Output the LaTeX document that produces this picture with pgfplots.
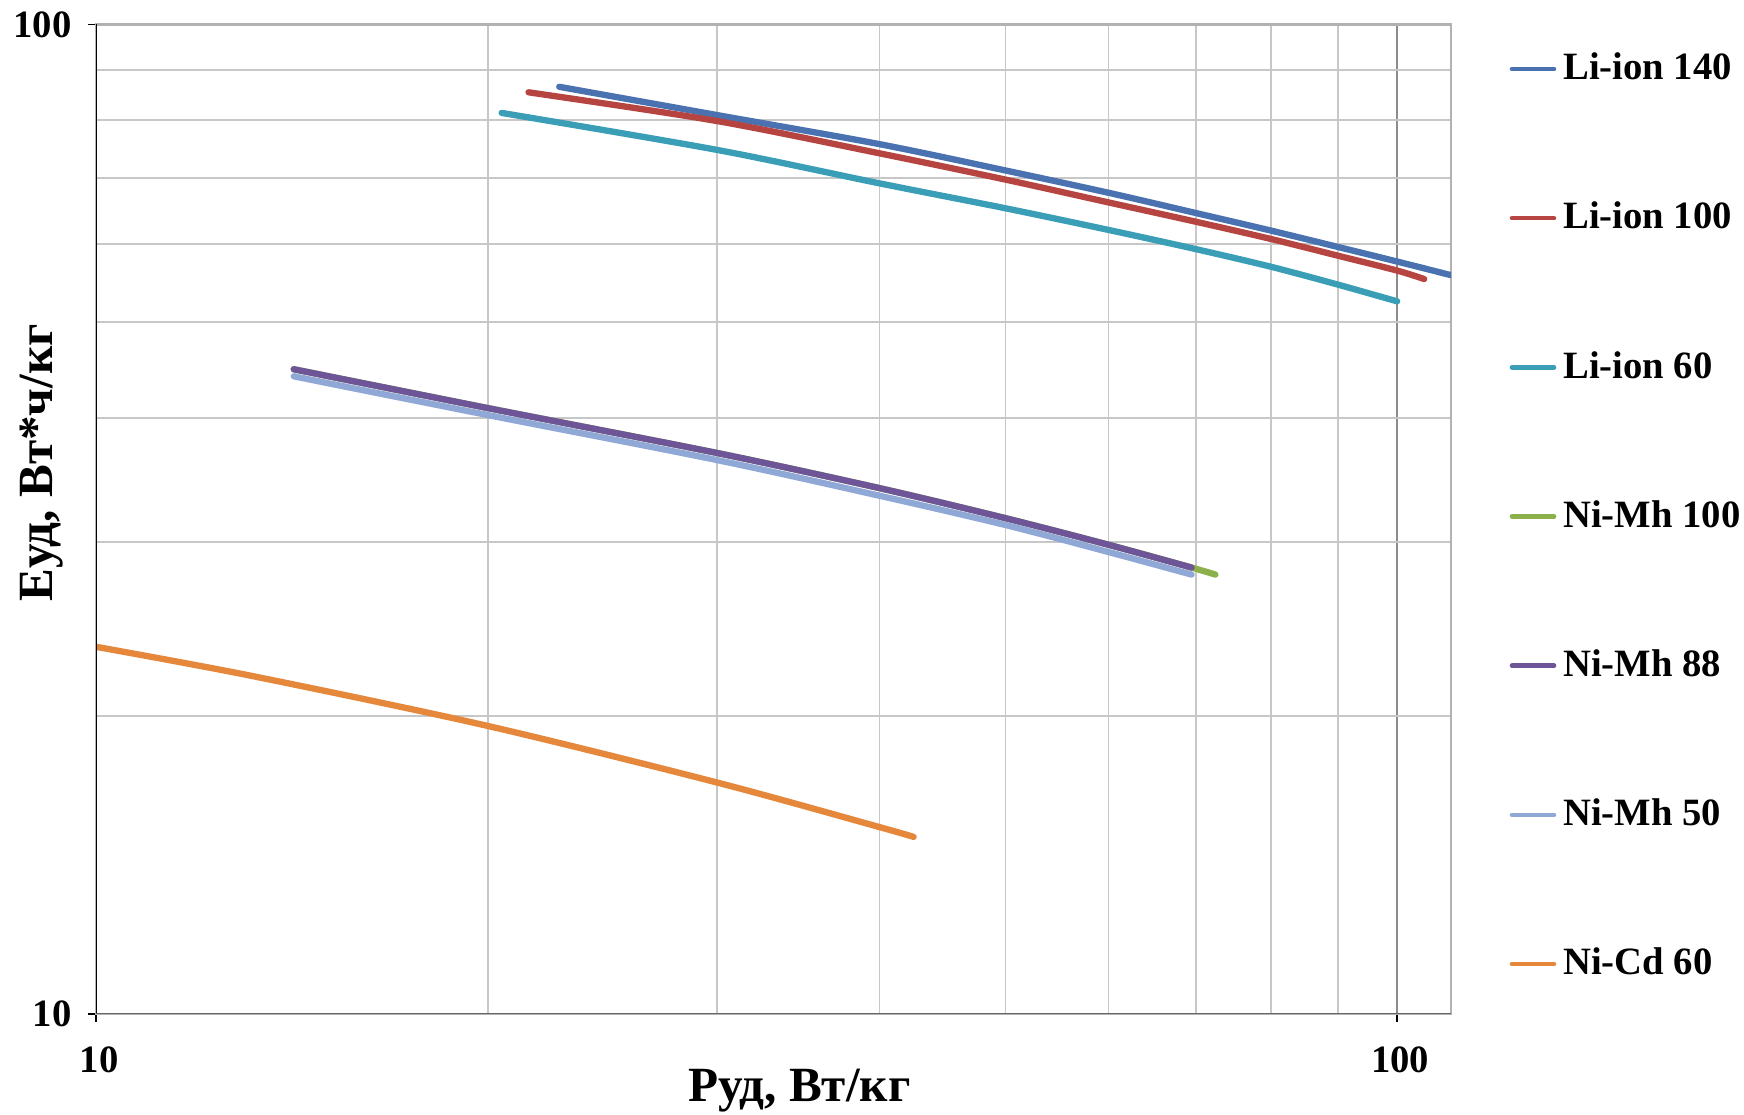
\documentclass[border=0pt]{standalone}
\usepackage{fontspec}
\setmainfont{Liberation Serif}
\usepackage{pgfplots}
\pgfplotsset{compat=1.18}
\definecolor{cA}{HTML}{4A72B0}
\definecolor{cB}{HTML}{B64541}
\definecolor{cC}{HTML}{3B9EB7}
\definecolor{cD}{HTML}{8CB04A}
\definecolor{cE}{HTML}{6E5597}
\definecolor{cF}{HTML}{8FA8D6}
\definecolor{cG}{HTML}{E6883C}
\begin{document}
\begin{tikzpicture}
\begin{axis}[
  xmode=log, ymode=log,
  xmin=10, xmax=110, ymin=10, ymax=100,
  scale only axis, width=13.55cm, height=9.895cm,
  xtick={10,100}, xticklabels={10,100},
  ytick={10,100}, yticklabels={10,100},
  tick pos=left,
  grid=both,
  major grid style={color=black!45, line width=0.6pt},
  minor grid style={color=black!22, line width=0.5pt},
  axis line style={color=black!30, line width=0.6pt},
  tick align=outside, major tick length=0.08cm, minor tick length=0pt,
  tick style={black, line width=0.5pt},
  ticklabel style={font=\bfseries\fontsize{11}{11}\selectfont},
  xticklabel style={yshift=-0.12cm, xshift=0.03cm},
  yticklabel style={xshift=-0.04cm},
  xlabel={Руд, Вт/кг}, ylabel={Еуд, Вт*ч/кг},
  label style={font=\bfseries\fontsize{14}{16}\selectfont},
  xlabel style={at={(axis description cs:0.519,-0.077)}, anchor=center},
  ylabel style={at={(axis description cs:-0.040,0.557)}, anchor=center},
  legend style={at={(axis description cs:1.0428,0.979)}, anchor=north west,
    draw=none, fill=none, inner sep=0pt, row sep=1.03cm,
    font=\bfseries\fontsize{11}{13}\selectfont},
  legend cell align=left,
  legend image code/.code={\draw[#1, line width=1.3pt] (0cm,0cm) -- (0.42cm,0cm);},
  every axis plot/.append style={line width=1.8pt, line cap=round, line join=round, smooth},
]
\addplot[cA] coordinates {(22.7,86.5)(30,81.0)(40,75.7)(50,71.2)(60,67.6)(70,64.5)(80,61.9)(90,59.6)(100,57.6)(110,55.8)};
\addlegendentry{Li-ion 140}
\addplot[cB] coordinates {(21.5,85.4)(30,79.9)(40,74.1)(50,69.7)(60,66.1)(70,63.2)(80,60.7)(90,58.4)(100,56.4)(104.9,55.3)};
\addlegendentry{Li-ion 100}
\addplot[cC] coordinates {(20.5,81.4)(30,74.7)(40,69.1)(50,65.2)(60,62.0)(70,59.3)(80,56.9)(90,54.6)(100,52.5)};
\addlegendentry{Li-ion 60}
\addplot[cD] coordinates {(14.19,44.83)(20,40.96)(30,36.9)(40,34.0)(50,31.7)(60,29.8)(69.5,28.26)(72.5,27.8)};
\addlegendentry{Ni-Mh 100}
\addplot[cE] coordinates {(14.19,44.83)(20,40.96)(30,36.9)(40,34.0)(50,31.7)(60,29.8)(69.5,28.26)};
\addlegendentry{Ni-Mh 88}
\addplot[cF] coordinates {(14.19,44.1)(20,40.3)(30,36.3)(40,33.4)(50,31.2)(60,29.3)(69.5,27.8)};
\addlegendentry{Ni-Mh 50}
\addplot[cG] coordinates {(10,23.5)(13.2,21.95)(20,19.55)(30,17.14)(40,15.45)(42.5,15.1)};
\addlegendentry{Ni-Cd 60}
\draw[black, line width=0.8pt] (rel axis cs:0,0) -- (rel axis cs:0,1);
\draw[black!60, line width=0.8pt] (rel axis cs:0,0) -- (rel axis cs:1,0);
\coordinate (sw) at (rel axis cs:0,0);
\coordinate (ne) at (rel axis cs:1,1);
\end{axis}
\pgfresetboundingbox
\path[use as bounding box] ([shift={(-0.96cm,-1.01cm)}]sw) rectangle ([shift={(2.93cm,0.245cm)}]ne);
\end{tikzpicture}
\end{document}
